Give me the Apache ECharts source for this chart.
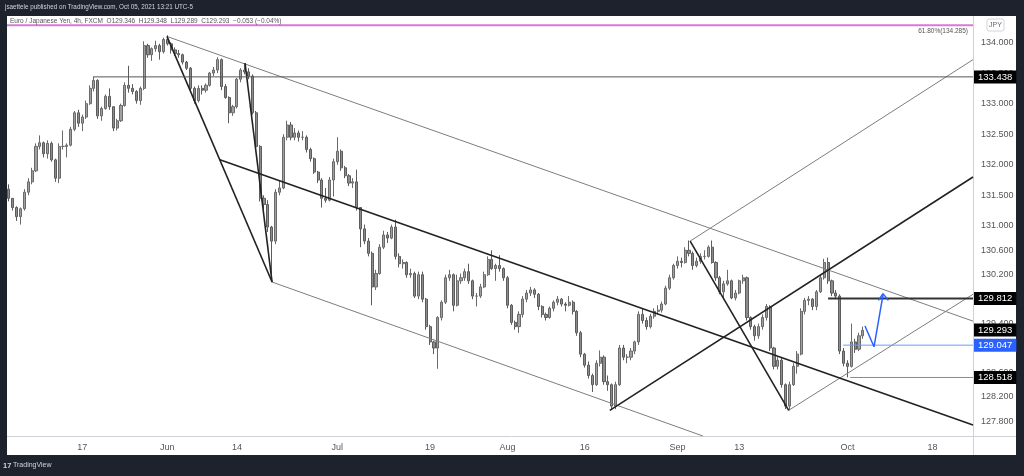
<!DOCTYPE html>
<html><head><meta charset="utf-8">
<script src="https://cdn.jsdelivr.net/npm/echarts@6/dist/echarts.min.js"></script>
<style>
html,body{margin:0;padding:0;background:#1e222d;width:1024px;height:476px;overflow:hidden}
#panel{position:absolute;left:7px;top:16px;width:1009px;height:439px;background:#fff}
#c{position:absolute;left:0;top:0;width:1024px;height:476px}
</style></head>
<body><div id="panel"></div><div id="c"></div>
<script>
// ---------------- DATA ----------------
// 12-hour slots (AM / PM) of EUR/JPY. Open of each slot = previous close.
const firstOpen = 131.60;
const closes = [
131.45,131.30,131.15,131.28,131.55,131.72,131.90,132.30,132.36,132.18,
132.35,132.08,131.78,132.30,132.30,132.32,132.58,132.85,132.68,132.78,
133.00,133.25,133.38,132.80,132.92,133.12,132.95,132.60,132.72,132.97,
133.30,133.25,133.20,133.05,133.25,133.95,133.80,133.90,133.95,133.85,
134.05,133.98,133.88,133.82,133.80,133.68,133.58,133.25,133.05,133.25,
133.22,133.30,133.50,133.55,133.72,133.28,133.10,132.85,132.95,133.40,
133.55,133.52,133.45,132.85,132.30,131.45,131.35,130.98,130.75,131.55,
131.62,132.45,132.65,132.45,132.52,132.45,132.45,132.25,132.10,131.88,
131.75,131.45,131.42,131.75,132.05,132.22,131.95,131.82,131.70,131.72,
131.30,130.95,130.75,130.55,130.00,130.22,130.65,130.85,130.80,130.98,
130.50,130.38,130.40,130.20,130.22,129.85,130.20,129.80,129.35,129.10,
129.00,129.50,129.75,130.15,130.20,129.70,130.10,130.15,130.25,130.10,
129.85,129.85,130.00,130.20,130.45,130.30,130.35,130.30,130.15,129.70,
129.42,129.35,129.55,129.80,129.90,129.95,129.88,129.68,129.55,129.50,
129.65,129.75,129.80,129.72,129.70,129.75,129.60,129.25,128.90,128.72,
128.55,128.40,128.75,128.85,128.45,128.40,128.05,128.40,129.00,128.85,
128.85,128.95,129.10,129.55,129.45,129.35,129.52,129.60,129.62,129.72,
129.98,130.15,130.35,130.42,130.40,130.60,130.55,130.35,130.42,130.50,
130.50,130.65,130.40,130.15,129.92,130.05,130.10,129.82,129.90,130.10,
130.15,129.50,129.35,129.20,129.35,129.50,129.68,129.00,128.70,128.80,
128.40,128.05,128.40,128.70,128.90,129.60,129.78,129.80,129.68,129.92,
130.15,130.40,130.10,129.90,129.85,128.95,128.75,128.70,129.10,128.98,
129.20,129.29
];
const highs = [
131.68,131.45,131.32,131.30,131.60,131.78,131.95,132.35,132.48,132.38,
132.40,132.38,132.10,132.35,132.56,132.35,132.62,132.88,132.90,132.82,
133.05,133.30,133.44,133.40,132.95,133.15,133.25,132.95,132.75,133.00,
133.35,133.62,133.32,133.22,133.28,134.02,133.98,133.92,134.03,133.98,
134.08,134.12,134.00,133.92,133.88,133.82,133.70,133.60,133.28,133.30,
133.30,133.33,133.52,133.60,133.76,133.74,133.32,133.12,132.98,133.42,
133.58,133.66,133.58,133.48,132.88,132.32,131.50,131.42,131.00,131.60,
131.75,132.50,132.72,132.70,132.60,132.56,132.55,132.48,132.28,132.12,
131.90,131.78,131.62,131.80,132.10,132.45,132.25,131.98,131.85,131.78,
131.92,131.30,131.02,130.80,130.58,130.28,130.70,130.92,130.90,131.02,
131.10,130.55,130.45,130.42,130.30,130.25,130.25,130.25,129.82,129.38,
129.12,129.52,129.78,130.20,130.28,130.22,130.20,130.22,130.30,130.38,
130.12,129.90,130.05,130.25,130.50,130.60,130.38,130.52,130.32,130.18,
129.72,129.45,129.60,129.85,129.95,130.00,129.98,129.90,129.70,129.58,
129.68,129.78,129.85,129.82,129.75,129.85,129.78,129.62,129.28,128.92,
128.78,128.58,128.80,128.96,128.88,128.55,128.42,128.45,129.05,129.05,
128.90,129.00,129.12,129.60,129.65,129.50,129.56,129.65,129.70,129.76,
130.02,130.20,130.38,130.50,130.48,130.65,130.76,130.58,130.48,130.55,
130.60,130.68,130.76,130.42,130.18,130.10,130.28,130.12,129.95,130.12,
130.20,130.17,129.52,129.38,129.40,129.55,129.72,129.70,129.02,128.85,
128.85,128.42,128.45,128.75,128.95,129.65,129.82,129.85,129.82,129.95,
130.20,130.46,130.48,130.12,129.95,129.88,129.00,128.80,129.40,129.15,
129.25,129.35
];
const lows = [
131.40,131.25,131.08,131.02,131.25,131.50,131.68,131.88,132.25,132.12,
132.10,132.05,131.72,131.70,132.25,132.12,132.30,132.55,132.62,132.55,
132.75,132.98,133.20,132.75,132.72,132.90,132.90,132.55,132.56,132.70,
132.95,133.18,133.15,133.00,132.98,133.22,133.75,133.70,133.85,133.72,
133.82,133.95,133.82,133.78,133.75,133.64,133.55,133.22,133.00,133.02,
133.15,133.18,133.28,133.45,133.50,133.22,133.08,132.68,132.80,132.92,
133.35,133.48,133.40,132.82,132.25,131.40,131.20,130.90,130.09,130.70,
131.50,131.60,132.40,132.40,132.40,132.38,132.40,132.20,132.05,131.85,
131.70,131.30,131.38,131.40,131.48,132.00,131.90,131.78,131.65,131.62,
131.25,130.65,130.70,130.50,129.70,129.95,130.20,130.62,130.72,130.78,
130.45,130.32,130.30,130.15,130.15,129.82,129.80,129.75,129.30,129.05,
128.90,128.66,129.45,129.72,130.10,129.60,129.68,130.05,130.10,130.05,
129.80,129.68,129.82,129.98,130.18,130.28,130.10,130.25,130.10,129.65,
129.38,129.30,129.25,129.50,129.75,129.85,129.82,129.62,129.50,129.45,
129.48,129.60,129.70,129.68,129.60,129.68,129.55,129.20,128.85,128.68,
128.50,128.28,128.38,128.70,128.40,128.30,128.00,128.00,128.38,128.80,
128.75,128.80,128.90,129.05,129.40,129.30,129.32,129.48,129.55,129.58,
129.70,129.95,130.12,130.30,130.32,130.38,130.50,130.28,130.32,130.38,
130.45,130.48,130.38,130.10,129.88,129.80,130.02,129.80,129.78,129.88,
130.05,129.45,129.30,129.12,129.15,129.30,129.45,128.95,128.65,128.65,
128.35,128.00,127.98,128.38,128.58,128.88,129.55,129.70,129.62,129.62,
129.90,130.12,130.05,129.85,129.80,128.90,128.70,128.52,128.68,128.92,
128.95,129.15
];

// time axis ticks
const xTickDates  = ['2021-05-17','2021-06-01','2021-06-14','2021-07-01','2021-07-19','2021-08-02','2021-08-16','2021-09-01','2021-09-13','2021-10-01','2021-10-18'];
const xTickLabels = ['17','Jun','14','Jul','19','Aug','16','Sep','13','Oct','18'];
// price axis ticks
const yTickLabels = ['134.000','133.500','133.000','132.500','132.000','131.500','131.000','130.600','130.200','129.800','129.400','129.000','128.600','128.200','127.800'];

// drawings, in [slot position, price]
const thickLines = [
  [[41.4,134.10],[68.6,130.08]],
  [[61.6,133.665],[68.6,130.08]],
  [[55.1,132.08],[250,127.74]],
  [[156.0,127.98],[250,131.80]],
  [[176.8,130.75],[202.3,127.98]]
];
const thinLines = [
  [[41.4,134.10],[250,129.44]],
  [[68.6,130.08],[180.1,127.56]],
  [[176.8,130.75],[250,133.72]],
  [[202.3,127.98],[250,129.88]]
];
const fibPrice = 134.285;
const level1 = {price:133.438, from:22.3};
const level2 = {price:129.812, from:212.5};
const level3 = {price:128.518, from:218.2};
const level4 = {price:129.047, from:216.4};
const lastPrice = 129.293;
const projectionPath = [[222.05,129.36],[224.38,129.02],[226.71,129.87]];
const arrowHead = [[225.5,129.78],[226.71,129.89],[228.1,129.78]];

// ---------------- BUILD ----------------
const NSLOTS = 250;
const tradingDays = [];
{ const d = new Date(Date.UTC(2021,4,3));
  while (tradingDays.length < 130) { const wd = d.getUTCDay(); if (wd > 0 && wd < 6) tradingDays.push(d.toISOString().slice(0,10)); d.setUTCDate(d.getUTCDate()+1); } }
const categories = [tradingDays[0] + ' PM'];
for (let i = 1; categories.length < NSLOTS; i++) { categories.push(tradingDays[i]+' AM'); if (categories.length < NSLOTS) categories.push(tradingDays[i]+' PM'); }

const candles = closes.map((c,i) => {
  const o = i === 0 ? firstOpen : closes[i-1];
  return [o, c, Math.min(lows[i],o,c), Math.max(highs[i],o,c)];
});
const tickMap = {}; xTickDates.forEach((d,i) => tickMap[d+' AM'] = xTickLabels[i]);
const ySet = new Set(yTickLabels);

const FONT = "'Liberation Sans', Arial, sans-serif";
function seg(pts, color, width, z) {
  return { type:'line', xAxisIndex:1, yAxisIndex:0, data:pts, symbol:'none', showSymbol:false, silent:true,
           lineStyle:{color:color, width:width}, z:z||3, animation:false };
}
const priceTags = [
  {price:level1.price, bg:'#000'},
  {price:level2.price, bg:'#000'},
  {price:lastPrice,    bg:'#000'},
  {price:level3.price, bg:'#000'},
  {price:level4.price, bg:'#2962ff'}
];
const series = [{
  type:'candlestick', xAxisIndex:0, yAxisIndex:0, data:candles, barWidth:2.6,
  itemStyle:{color:'#a0a0a0', color0:'#8c8c8c', borderColor:'#6a6a6a', borderColor0:'#5c5c5c', borderWidth:1},
  animation:false, silent:true, z:2
}, {
  // price tags on the price scale
  type:'line', xAxisIndex:1, yAxisIndex:0, data:[], silent:true, animation:false, z:10, clip:false,
  markLine:{ silent:true, symbol:'none', animation:false, precision:3,
    lineStyle:{color:'rgba(0,0,0,0)', width:1, type:'solid'},
    label:{show:true, position:'end', distance:1, formatter:p=>Number(p.value).toFixed(3), color:'#fff',
           padding:[2,4,1,4], fontSize:9.5, fontFamily:FONT},
    data:priceTags.map(t => ({yAxis:t.price, label:{backgroundColor:t.bg}})) }
}];
thinLines.forEach(l => series.push(seg(l,'#7d7d7d',1)));
thickLines.forEach(l => series.push(seg(l,'#222',1.6)));
series.push(seg([[0,fibPrice],[NSLOTS,fibPrice]],'#d67bd3',2));
series.push(seg([[level1.from,level1.price],[NSLOTS,level1.price]],'#555',1));
series.push(seg([[level2.from,level2.price],[NSLOTS,level2.price]],'#333',2));
series.push(seg([[level3.from,level3.price],[NSLOTS,level3.price]],'#8a8a8a',1));
series.push(seg([[level4.from,level4.price],[NSLOTS,level4.price]],'#6b9cf7',1));
series.push(seg(projectionPath,'#2962ff',1.5,4));
series.push(seg(arrowHead,'#2962ff',1.5,4));

const chart = echarts.init(document.getElementById('c'), null, {renderer:'canvas'});
chart.setOption({
  backgroundColor:'transparent', animation:false,
  grid:{left:7, right:51, top:12, height:424},
  xAxis:[{
    type:'category', data:categories, boundaryGap:true, gridIndex:0,
    axisLine:{show:false}, axisTick:{show:false}, splitLine:{show:false},
    axisLabel:{interval:0, margin:7, color:'#555', fontSize:9, fontFamily:FONT, formatter:v=>tickMap[v]||''}
  },{
    type:'value', min:0, max:NSLOTS, show:false, gridIndex:0
  }],
  yAxis:[{
    type:'value', position:'right', min:127.56, max:134.5, interval:0.02, scale:true,
    axisLine:{show:false}, axisTick:{show:false}, splitLine:{show:false},
    axisLabel:{margin:8, color:'#555', fontSize:9, fontFamily:FONT, formatter:v=>{const s=v.toFixed(3);return ySet.has(s)?s:'';}}
  }],
  series:series,
  graphic:[
    {type:'line', shape:{x1:7,y1:436.5,x2:1016,y2:436.5}, style:{stroke:'#cfd1d6',lineWidth:1}, silent:true, z:1},
    {type:'line', shape:{x1:973.5,y1:16,x2:973.5,y2:455}, style:{stroke:'#cfd1d6',lineWidth:1}, silent:true, z:1},
    {type:'text', left:5, top:4, silent:true, style:{text:'jsaettele published on TradingView.com, Oct 05, 2021 13:21 UTC-5', fill:'#d1d4dc', font:'6.3px '+FONT}},
    {type:'text', left:10, top:18, silent:true, z:10, style:{text:'Euro / Japanese Yen, 4h, FXCM  O129.346  H129.348  L129.289  C129.293  \u22120.053 (\u22120.04%)', fill:'#555', font:'6.5px '+FONT}},
    {type:'text', x:968, y:28, silent:true, style:{text:'61.80%(134.285)', fill:'#555', font:'6.5px '+FONT, align:'right'}},
    {type:'rect', shape:{x:987,y:19,width:17,height:12,r:2}, style:{fill:'#fff',stroke:'#d0d3d8',lineWidth:1}, silent:true},
    {type:'text', x:995.5, y:25, silent:true, style:{text:'JPY', fill:'#666', font:'7px '+FONT, align:'center', verticalAlign:'middle'}},
    {type:'text', left:3, top:462, silent:true, style:{text:'17', fill:'#d1d4dc', font:'bold 7.5px '+FONT}},
    {type:'text', left:13, top:462, silent:true, style:{text:'TradingView', fill:'#d1d4dc', font:'7px '+FONT}}
  ]
});
</script></body></html>
